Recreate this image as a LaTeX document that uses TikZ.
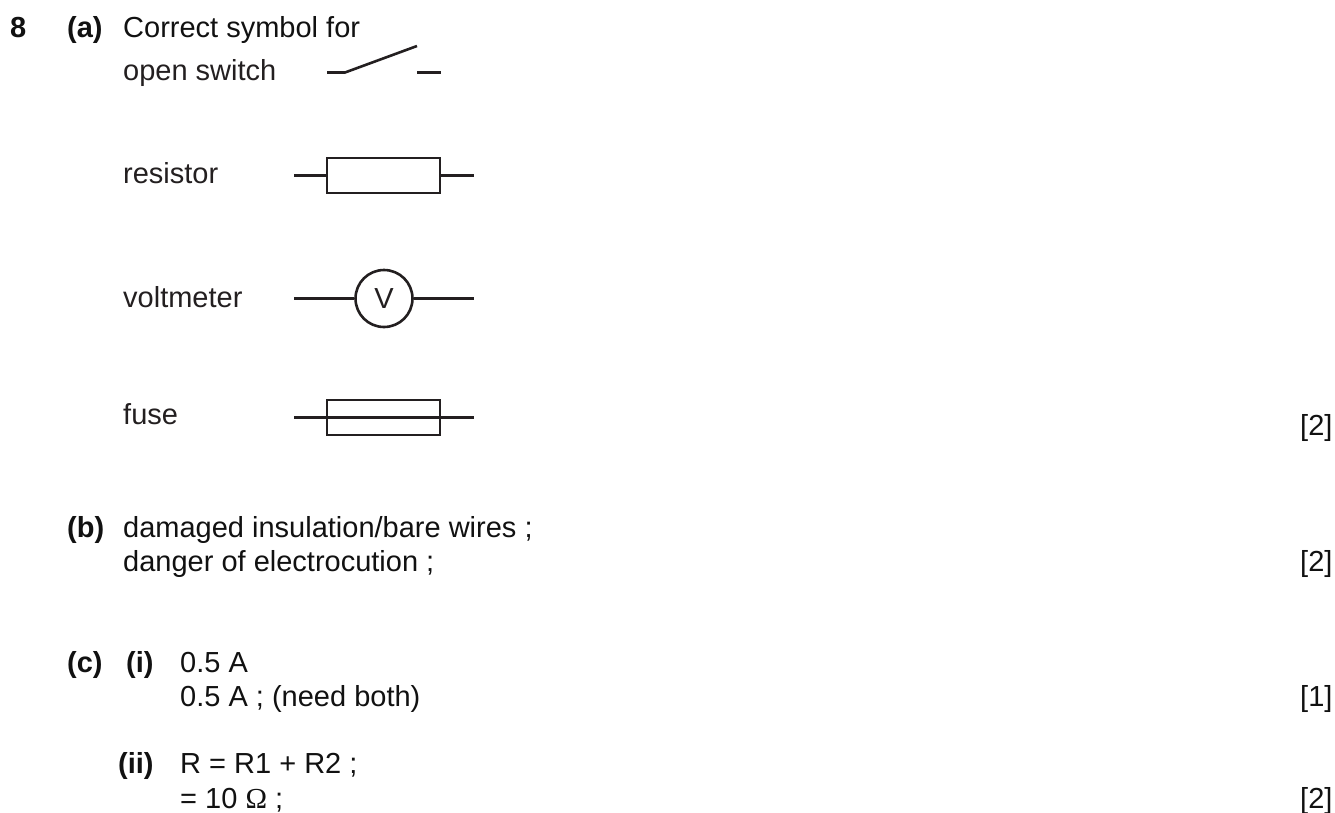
\documentclass[tikz,border=0pt]{standalone}
\usepackage{fontspec}
\setmainfont{Liberation Sans}
\newfontfamily\symfont{Liberation Serif}
\definecolor{ink}{HTML}{231F20}
\definecolor{inkb}{HTML}{111111}
\tikzset{txt/.style={anchor=base west,inner sep=0pt,text=ink,font=\fontsize{29pt}{34pt}\selectfont},
txtb/.style={txt,text=inkb},
wire/.style={line width=2.6pt,line cap=butt,draw=ink},
box/.style={draw=ink,line width=2.6pt,minimum width=113pt,minimum height=35pt,inner sep=0pt}}
\begin{document}
\begin{tikzpicture}[x=1pt,y=-1pt]
\useasboundingbox (0,0) rectangle (1335,812);
\node[txtb] (n8) at (10,37) {\textbf{8}};
\node[txtb] (pa) at (67,37) {\textbf{(a)}};
\node[txtb] (t1) at (123,37) {Correct symbol for};
\node[txt] (t2) at (123,80) {open switch};
\node[txt] (t3) at (123,183) {resistor};
\node[txt] (t4) at (123,307) {voltmeter};
\node[txt] (t5) at (123,424) {fuse};
\node[txtb] (m1) at (1300,435) {[2]};
\node[txtb] (pb) at (67,537) {\textbf{(b)}};
\node[txtb] (t6) at (123,537) {damaged insulation/bare wires ;};
\node[txtb] (t7) at (123,571) {danger of electrocution ;};
\node[txtb] (m2) at (1300,571) {[2]};
\node[txtb] (pc) at (67,672) {\textbf{(c)}};
\node[txtb] (pi) at (126,672) {\textbf{(i)}};
\node[txtb] (t8) at (180,672) {0.5 A};
\node[txtb] (t9) at (180,706) {0.5 A ; (need both)};
\node[txtb] (m3) at (1300,706) {[1]};
\node[txtb] (pii) at (118,773) {\textbf{(ii)}};
\node[txtb] (t10) at (180,773) {R = R1 + R2 ;};
\node[txtb] (t11) at (180,808) {= 10 {\symfont Ω} ;};
\node[txtb] (m4) at (1300,808) {[2]};
\coordinate (sa) at (327,72.5);\coordinate (sb) at (345,72.5);\coordinate (sc) at (417,46);
\coordinate (sd) at (417,72.5);\coordinate (se) at (441,72.5);
\draw[wire] (sa) -- (sb) -- (sc);
\draw[wire] (sd) -- (se);
\coordinate (rl) at (294,175.5);\coordinate (rr) at (474,175.5);
\node[box] (r) at (383.5,175.5) {};
\draw[wire] (rl) -- (r.west) (r.east) -- (rr);
\coordinate (vl) at (294,298.5);\coordinate (vr) at (474,298.5);
\node[draw=ink,text=ink,circle,line width=2.6pt,minimum size=57pt,inner sep=0pt,font=\fontsize{29pt}{34pt}\selectfont] (v) at (384,298.5) {V};
\draw[wire] (vl) -- (v) (v) -- (vr);
\coordinate (fl) at (294,417.5);\coordinate (fr) at (474,417.5);
\node[box] (f) at (383.5,417.5) {};
\draw[wire] (fl) -- (fr);
\end{tikzpicture}
\end{document}
